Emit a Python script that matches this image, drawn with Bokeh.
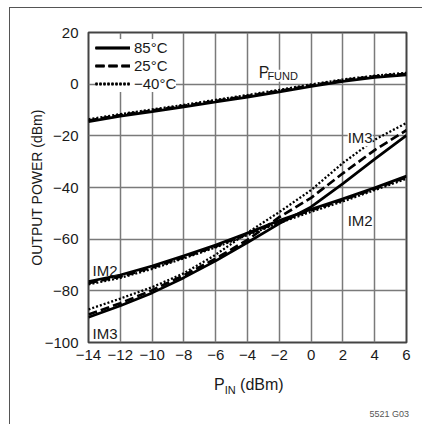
from bokeh.plotting import figure
from bokeh.models import Label, FixedTicker, Div
from bokeh.layouts import column
from bokeh.embed import file_html
from bokeh.resources import INLINE

# ---- data ----
p_in = [-14, -12, -10, -8, -6, -4, -2, 0, 2, 4, 6]

pfund_85 = [-14.5, -12.4, -10.6, -8.8, -6.9, -5.0, -3.0, -0.9, 1.1, 2.6, 3.6]
pfund_25 = [-14.1, -12.0, -10.2, -8.4, -6.5, -4.6, -2.6, -0.5, 1.5, 3.0, 4.0]
pfund_m40 = [-13.6, -11.6, -9.8, -8.0, -6.1, -4.2, -2.2, -0.1, 1.8, 3.3, 4.4]

im2_85 = [-76.4, -73.9, -70.4, -66.4, -62.3, -57.6, -52.8, -48.4, -44.4, -40.1, -35.6]
im2_25 = [-77.0, -74.5, -71.0, -67.0, -62.8, -58.0, -53.2, -48.8, -44.8, -40.5, -36.0]
im2_m40 = [-77.5, -75.0, -71.5, -67.4, -63.2, -58.4, -53.7, -49.4, -45.4, -41.0, -36.6]

im3_85 = [-90.2, -85.8, -80.8, -74.9, -68.4, -61.3, -54.0, -47.5, -38.5, -29.0, -19.8]
im3_25 = [-89.2, -84.8, -79.8, -74.0, -67.5, -60.3, -51.5, -44.0, -34.5, -25.5, -17.8]
im3_m40 = [-87.2, -83.0, -78.6, -73.2, -66.0, -57.5, -49.5, -41.0, -30.5, -21.5, -15.0]

x_ticks = [-14, -12, -10, -8, -6, -4, -2, 0, 2, 4, 6]
x_tick_labels = ["\u221214", "\u221212", "\u221210", "\u22128", "\u22126", "\u22124",
                 "\u22122", "0", "2", "4", "6"]
y_ticks = [-100, -80, -60, -40, -20, 0, 20]
y_tick_labels = ["\u2212100", "\u221280", "\u221260", "\u221240", "\u221220", "0", "20"]

legend_labels = ["85\u00b0C", "25\u00b0C", "\u221240\u00b0C"]

FONT = "Liberation Sans"
TXT = "#1a1a1a"

p = figure(width=402, height=358, x_range=(-14, 6), y_range=(-100, 20),
           output_backend="svg", toolbar_location=None,
           min_border_left=78, min_border_right=6, min_border_top=24,
           min_border_bottom=24)

p.background_fill_color = "white"
p.border_fill_color = "white"
p.outline_line_color = "#444444"
p.outline_line_width = 2

p.xaxis.ticker = FixedTicker(ticks=x_ticks)
p.yaxis.ticker = FixedTicker(ticks=y_ticks)
p.xaxis.major_label_overrides = dict(zip(x_ticks, x_tick_labels))
p.yaxis.major_label_overrides = dict(zip(y_ticks, y_tick_labels))

for ax in (p.xaxis, p.yaxis):
    ax.axis_line_color = None
    ax.major_tick_line_color = None
    ax.minor_tick_line_color = None
    ax.major_tick_out = 0
    ax.major_tick_in = 0
    ax.major_label_text_font = FONT
    ax.major_label_text_font_size = "15px"
    ax.major_label_text_color = TXT
p.xaxis.major_label_standoff = 7
p.yaxis.major_label_standoff = 10

p.yaxis.axis_label = "OUTPUT POWER (dBm)"
p.yaxis.axis_label_text_font = FONT
p.yaxis.axis_label_text_font_size = "14px"
p.yaxis.axis_label_text_font_style = "normal"
p.yaxis.axis_label_text_color = TXT
p.yaxis.axis_label_standoff = -3

p.xgrid.grid_line_color = "#7a7a7a"
p.ygrid.grid_line_color = "#7a7a7a"
p.xgrid.grid_line_width = 1.5
p.ygrid.grid_line_width = 1.5

styles = [
    dict(line_dash="solid", line_width=2.7),
    dict(line_dash="9 4", line_width=2.7),
    dict(line_dash="2 2", line_width=2.3),
]
series = [
    (pfund_85, im2_85, im3_85),
    (pfund_25, im2_25, im3_25),
    (pfund_m40, im2_m40, im3_m40),
]
for k in (2, 1, 0):
    for ys in series[k]:
        p.line(p_in, ys, line_color="black", legend_label=legend_labels[k], **styles[k])

items = p.legend[0].items
p.legend[0].items = sorted(items, key=lambda it: legend_labels.index(it.label.value))

lg = p.legend[0]
lg.location = "top_left"
lg.margin = 7
lg.padding = 0
lg.spacing = 1
lg.glyph_width = 35
lg.glyph_height = 17
lg.label_height = 17
lg.label_standoff = 4
lg.label_text_font = FONT
lg.label_text_font_size = "15px"
lg.label_text_color = TXT
lg.border_line_color = None
lg.background_fill_color = "white"
lg.background_fill_alpha = 1.0


def lab(x, y, text, size="15px", bg=None):
    p.add_layout(Label(x=x, y=y, text=text, text_font=FONT, text_font_size=size,
                       text_color=TXT, text_align="left", text_baseline="alphabetic",
                       background_fill_color=bg))


lab(2.3, -20.8, "IM3", bg="white")
lab(2.3, -52.8, "IM2")
lab(-13.75, -72.2, "IM2")
lab(-13.75, -96.5, "IM3")
lab(-3.3, 4.5, "P", size="16px", bg="white")
lab(-2.75, 3.3, "FUND", size="11px", bg="white")

foot = Div(width=402, height=54, text=(
    '<div style="position:relative;width:402px;height:54px;'
    'font-family:\'Liberation Sans\',sans-serif;color:#1a1a1a;">'
    '<div style="position:absolute;left:199px;top:6px;font-size:16px;line-height:16px;'
    'white-space:nowrap;">P<span style="font-size:11px;position:relative;top:4px;">IN</span>'
    ' (dBm)</div>'
    '<div style="position:absolute;right:8px;top:39px;font-size:9px;line-height:9px;'
    'color:#555;white-space:nowrap;">5521 G03</div>'
    '</div>'))

layout = column(p, foot, spacing=0,
                styles={"margin-left": "9px", "margin-top": "7px",
                        "border-left": "1.5px solid #555",
                        "border-top": "1.5px solid #555"})

open("out.html", "w").write(file_html(layout, INLINE))
